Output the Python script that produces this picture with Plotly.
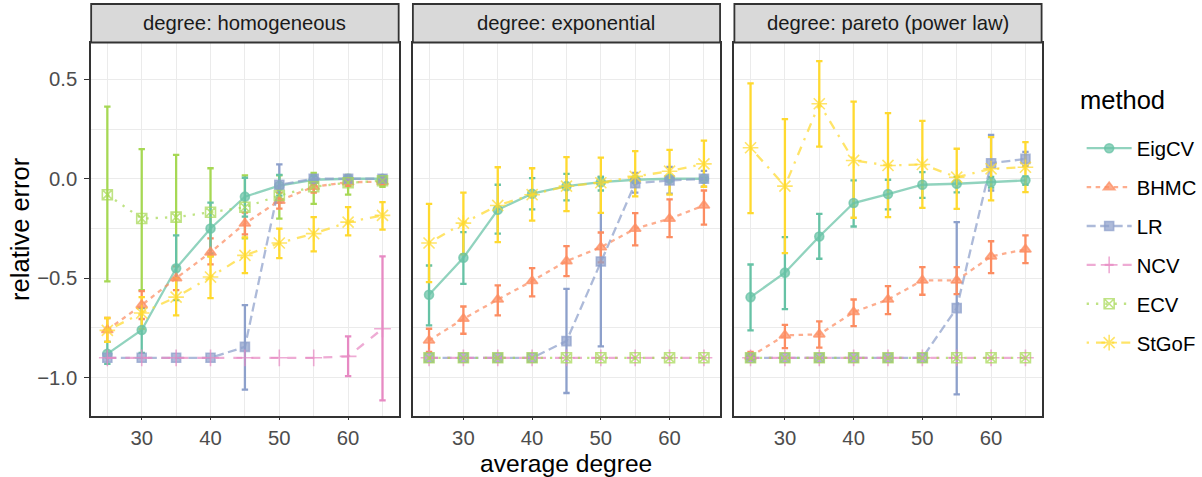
import plotly.graph_objects as go

W, H = 1202, 477

# ---------------- data ----------------
avg_degree = [25, 30, 35, 40, 45, 50, 55, 60, 65]
methods = ["EigCV", "BHMC", "LR", "NCV", "ECV", "StGoF"]
panel_titles = ["degree: homogeneous", "degree: exponential", "degree: pareto (power law)"]
x_ticks = [30, 40, 50, 60]
y_ticks = [-1.0, -0.5, 0.0, 0.5]

N = None

# homogeneous
hom_eigcv = [-0.88, -0.76, -0.45, -0.25, -0.09, -0.035, -0.005, 0.0, 0.0]
hom_eigcv_lo = [-0.93, -0.875, -0.61, -0.375, -0.19, -0.085, -0.03, -0.015, -0.01]
hom_eigcv_hi = [-0.82, -0.65, -0.285, -0.12, 0.005, 0.02, 0.015, 0.01, 0.01]
hom_bhmc = [-0.76, -0.635, -0.50, -0.37, -0.225, -0.11, -0.04, -0.017, -0.015]
hom_bhmc_lo = [-0.82, -0.705, -0.56, -0.43, -0.28, -0.15, -0.07, -0.035, -0.03]
hom_bhmc_hi = [-0.70, -0.565, -0.44, -0.30, -0.17, -0.07, -0.01, 0.0, 0.0]
hom_lr = [-0.9, -0.9, -0.9, -0.9, -0.845, -0.03, 0.0, 0.0, 0.0]
hom_lr_lo = [N, N, N, N, -1.06, -0.12, -0.02, -0.01, -0.01]
hom_lr_hi = [N, N, N, N, -0.635, 0.072, 0.02, 0.01, 0.01]
hom_ncv = [-0.9, -0.9, -0.9, -0.9, -0.9, -0.9, -0.9, -0.893, -0.754]
hom_ncv_lo = [N, N, N, N, N, N, N, -0.992, -1.114]
hom_ncv_hi = [N, N, N, N, N, N, N, -0.792, -0.39]
hom_ecv = [-0.08, -0.20, -0.193, -0.168, -0.143, -0.084, -0.04, -0.02, -0.01]
hom_ecv_lo = [-0.516, -0.56, -0.50, -0.39, -0.30, -0.20, -0.126, -0.08, -0.04]
hom_ecv_hi = [0.363, 0.149, 0.12, 0.053, 0.017, 0.017, 0.03, 0.02, 0.01]
hom_stgof = [-0.762, -0.675, -0.595, -0.494, -0.385, -0.323, -0.276, -0.218, -0.184]
hom_stgof_lo = [-0.82, -0.755, -0.687, -0.60, -0.474, -0.399, -0.365, -0.285, -0.256]
hom_stgof_hi = [-0.70, -0.595, -0.50, -0.39, -0.295, -0.251, -0.193, -0.143, -0.117]

# exponential
exp_eigcv = [-0.583, -0.397, -0.156, -0.075, -0.037, -0.017, -0.005, 0.0, 0.0]
exp_eigcv_lo = [-0.737, -0.528, -0.276, -0.154, -0.109, -0.059, -0.02, -0.01, -0.005]
exp_eigcv_hi = [-0.436, -0.268, -0.03, 0.003, 0.025, 0.01, 0.01, 0.005, 0.005]
exp_bhmc = [-0.813, -0.704, -0.607, -0.514, -0.414, -0.344, -0.251, -0.201, -0.134]
exp_bhmc_lo = [-0.87, -0.779, -0.687, -0.591, -0.489, -0.42, -0.335, -0.293, -0.231]
exp_bhmc_hi = [-0.754, -0.642, -0.536, -0.449, -0.339, -0.27, -0.173, -0.104, -0.059]
exp_lr = [-0.9, -0.9, -0.9, -0.9, -0.816, -0.416, -0.022, -0.009, 0.0]
exp_lr_lo = [N, N, N, N, -1.077, -0.843, -0.07, -0.075, -0.04]
exp_lr_hi = [N, N, N, N, -0.553, 0.01, 0.03, 0.06, 0.04]
exp_ncv = [-0.9, -0.9, -0.9, -0.9, -0.9, -0.9, -0.9, -0.9, -0.9]
exp_ncv_lo = [N, N, N, N, N, N, N, N, N]
exp_ncv_hi = [N, N, N, N, N, N, N, N, N]
exp_ecv = [-0.9, -0.9, -0.9, -0.9, -0.9, -0.9, -0.9, -0.9, -0.9]
exp_ecv_lo = [N, N, N, N, N, N, N, N, N]
exp_ecv_hi = [N, N, N, N, N, N, N, N, N]
exp_stgof = [-0.323, -0.223, -0.134, -0.08, -0.037, -0.02, 0.012, 0.038, 0.075]
exp_stgof_lo = [-0.52, -0.38, -0.318, -0.21, -0.163, -0.171, -0.089, -0.08, -0.04]
exp_stgof_hi = [-0.126, -0.07, 0.058, 0.053, 0.109, 0.106, 0.139, 0.145, 0.192]

# pareto
par_eigcv = [-0.595, -0.472, -0.29, -0.122, -0.077, -0.03, -0.025, -0.017, -0.008]
par_eigcv_lo = [-0.762, -0.655, -0.402, -0.24, -0.154, -0.096, -0.068, -0.045, -0.03]
par_eigcv_hi = [-0.431, -0.293, -0.176, -0.008, -0.005, 0.033, 0.01, 0.01, 0.012]
par_bhmc = [-0.893, -0.787, -0.782, -0.670, -0.607, -0.511, -0.511, -0.39, -0.355]
par_bhmc_lo = [-0.91, -0.851, -0.849, -0.741, -0.68, -0.583, -0.58, -0.474, -0.424]
par_bhmc_hi = [-0.87, -0.734, -0.717, -0.607, -0.54, -0.444, -0.444, -0.314, -0.285]
par_lr = [-0.9, -0.9, -0.9, -0.9, -0.9, -0.9, -0.65, 0.078, 0.1]
par_lr_lo = [N, N, N, N, N, N, -1.084, -0.059, 0.065]
par_lr_hi = [N, N, N, N, N, N, -0.218, 0.221, 0.135]
par_ncv = [-0.9, -0.9, -0.9, -0.9, -0.9, -0.9, -0.9, -0.9, -0.9]
par_ncv_lo = [N, N, N, N, N, N, N, N, N]
par_ncv_hi = [N, N, N, N, N, N, N, N, N]
par_ecv = [-0.9, -0.9, -0.9, -0.9, -0.9, -0.9, -0.9, -0.9, -0.9]
par_ecv_lo = [N, N, N, N, N, N, N, N, N]
par_ecv_hi = [N, N, N, N, N, N, N, N, N]
par_stgof = [0.156, -0.037, 0.377, 0.092, 0.067, 0.072, 0.008, 0.05, 0.058]
par_stgof_lo = [-0.173, -0.374, 0.162, -0.196, -0.193, -0.146, -0.151, -0.109, -0.067]
par_stgof_hi = [0.48, 0.30, 0.591, 0.388, 0.33, 0.291, 0.151, 0.209, 0.184]

panels = [
    {"EigCV": (hom_eigcv, hom_eigcv_lo, hom_eigcv_hi), "BHMC": (hom_bhmc, hom_bhmc_lo, hom_bhmc_hi),
     "LR": (hom_lr, hom_lr_lo, hom_lr_hi), "NCV": (hom_ncv, hom_ncv_lo, hom_ncv_hi),
     "ECV": (hom_ecv, hom_ecv_lo, hom_ecv_hi), "StGoF": (hom_stgof, hom_stgof_lo, hom_stgof_hi)},
    {"EigCV": (exp_eigcv, exp_eigcv_lo, exp_eigcv_hi), "BHMC": (exp_bhmc, exp_bhmc_lo, exp_bhmc_hi),
     "LR": (exp_lr, exp_lr_lo, exp_lr_hi), "NCV": (exp_ncv, exp_ncv_lo, exp_ncv_hi),
     "ECV": (exp_ecv, exp_ecv_lo, exp_ecv_hi), "StGoF": (exp_stgof, exp_stgof_lo, exp_stgof_hi)},
    {"EigCV": (par_eigcv, par_eigcv_lo, par_eigcv_hi), "BHMC": (par_bhmc, par_bhmc_lo, par_bhmc_hi),
     "LR": (par_lr, par_lr_lo, par_lr_hi), "NCV": (par_ncv, par_ncv_lo, par_ncv_hi),
     "ECV": (par_ecv, par_ecv_lo, par_ecv_hi), "StGoF": (par_stgof, par_stgof_lo, par_stgof_hi)},
]

# ---------------- styles ----------------
colors = {"EigCV": "102,194,165", "BHMC": "252,141,98", "LR": "141,160,203",
          "NCV": "231,138,195", "ECV": "166,216,84", "StGoF": "255,217,47"}
symbols = {"EigCV": "circle", "BHMC": "triangle-up", "LR": "square", "NCV": "cross-thin-open",
           "ECV": "square-x-open", "StGoF": "asterisk-open"}
msize = {"EigCV": 9, "BHMC": 10, "LR": 9, "NCV": 12, "ECV": 10, "StGoF": 13}
dashes = {"EigCV": "solid", "BHMC": "4.5px,4.5px", "LR": "9px,4.5px", "NCV": "9px,9px",
          "ECV": "2.3px,7px", "StGoF": "2.3px,7px,9px,7px"}
LW = 2.3
ALPHA = 0.72
SMALL = 20.3
LARGE = 25.5
FONT = "Liberation Sans, Arial, sans-serif"

# panel geometry in pixels
px_x = [(91.7, 401.0), (415.3, 724.3), (738.7, 1047.7)]
py_top, py_bot = 42.5, 415.5
strip_top = 4.0
x_range = [22.65, 67.35]
y_range = [-1.19, 0.685]

def fx(p):
    return p / W

def fy(p):
    return 1 - p / H

fig = go.Figure()

err_order = ["LR", "NCV", "ECV", "BHMC", "EigCV", "StGoF"]
for i, pdata in enumerate(panels):
    xa = "x" if i == 0 else f"x{i+1}"
    ya = "y" if i == 0 else f"y{i+1}"
    # error bars
    for m in err_order:
        mean, lo, hi = pdata[m]
        ex, ey, eu, ed = [], [], [], []
        for xv, mv, l, h in zip(avg_degree, mean, lo, hi):
            if l is None or h is None:
                continue
            ex.append(xv); ey.append(mv); eu.append(h - mv); ed.append(mv - l)
        if not ex:
            continue
        fig.add_trace(go.Scatter(
            x=ex, y=ey, mode="markers", xaxis=xa, yaxis=ya, showlegend=False,
            hoverinfo="skip", marker=dict(size=1, opacity=0),
            error_y=dict(type="data", symmetric=False, array=eu, arrayminus=ed,
                         color=f"rgb({colors[m]})", thickness=LW, width=3.2)))
    # lines + points
    for m in methods:
        mean = pdata[m][0]
        c = colors[m]
        fig.add_trace(go.Scatter(
            x=avg_degree, y=mean, mode="lines+markers", name=m, xaxis=xa, yaxis=ya,
            legendgroup=m, showlegend=(i == 0),
            line=dict(color=f"rgba({c},{ALPHA})", width=LW, dash=dashes[m]),
            marker=dict(symbol=symbols[m], size=msize[m], color=f"rgba({c},{ALPHA})",
                        line=dict(color=f"rgba({c},{ALPHA})", width=1.6))))

axis_common = dict(
    showline=True, mirror=True, linecolor="#333333", linewidth=1.8,
    showgrid=True, gridcolor="#EBEBEB", gridwidth=1.4, zeroline=False,
    ticks="outside", ticklen=5, tickwidth=1.4, tickcolor="#333333",
    tickfont=dict(family=FONT, size=SMALL, color="#4D4D4D"),
)

layout = dict(
    width=W, height=H, margin=dict(l=0, r=0, t=0, b=0),
    paper_bgcolor="white", plot_bgcolor="white",
    font=dict(family=FONT),
    showlegend=True,
    legend=dict(
        x=fx(1088), y=fy(128.5), xanchor="left", yanchor="top",
        font=dict(size=SMALL, color="black"), tracegroupgap=9.5,
        bgcolor="rgba(0,0,0,0)", itemwidth=45),
)
shapes = []
annotations = []
for i in range(3):
    sx = "" if i == 0 else str(i + 1)
    x0, x1 = px_x[i]
    layout[f"xaxis{sx}"] = dict(axis_common, domain=[fx(x0), fx(x1)], range=x_range,
                               tickmode="array", tickvals=x_ticks, anchor=f"y{sx}",
                               ticklen=3,
                               minor=dict(tick0=25, dtick=10, showgrid=True,
                                          gridcolor="#EBEBEB", gridwidth=0.8, ticklen=0))
    layout[f"yaxis{sx}"] = dict(axis_common, domain=[fy(py_bot), fy(py_top)], range=y_range,
                               tickmode="array", tickvals=y_ticks, tickformat=".1f",
                               showticklabels=(i == 0), ticks="outside" if i == 0 else "",
                               ticklabelstandoff=3, anchor=f"x{sx}",
                               minor=dict(tick0=0.25, dtick=0.5, showgrid=True,
                                          gridcolor="#EBEBEB", gridwidth=0.8, ticklen=0))
    shapes.append(dict(type="rect", xref="paper", yref="paper",
                       x0=fx(x0), x1=fx(x1), y0=fy(py_top), y1=fy(strip_top),
                       fillcolor="#D9D9D9", line=dict(color="#333333", width=1.8), layer="above"))
    annotations.append(dict(xref="paper", yref="paper", x=fx((x0 + x1) / 2),
                            y=fy((py_top + strip_top) / 2), text=panel_titles[i],
                            showarrow=False, xanchor="center", yanchor="middle",
                            font=dict(size=SMALL, color="#1A1A1A")))

annotations.append(dict(xref="paper", yref="paper", x=fx((91.7 + 1047.7) / 2), y=fy(463.5),
                        text="average degree", showarrow=False, xanchor="center",
                        yanchor="middle", font=dict(size=24.6, color="black")))
annotations.append(dict(xref="paper", yref="paper", x=fx(20), y=fy((py_top + py_bot) / 2),
                        text="relative error", showarrow=False, textangle=-90,
                        xanchor="center", yanchor="middle",
                        font=dict(size=LARGE, color="black")))
annotations.append(dict(xref="paper", yref="paper", x=fx(1084), y=fy(100),
                        text="method", showarrow=False, xanchor="left",
                        yanchor="middle", font=dict(size=LARGE, color="black")))
layout["shapes"] = shapes
layout["annotations"] = annotations
fig.update_layout(**layout)

fig.write_html("out.html", config={"displayModeBar": False},
               post_script="document.body.style.margin='0px';")
